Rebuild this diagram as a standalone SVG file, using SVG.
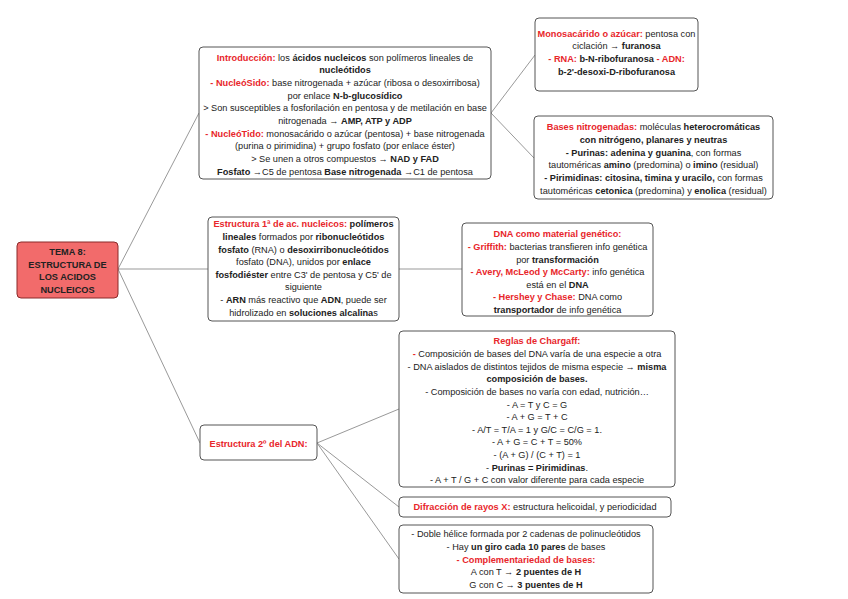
<svg xmlns="http://www.w3.org/2000/svg" width="848" height="599" viewBox="0 0 848 599">
<style>
text{font-family:"Liberation Sans",Arial,sans-serif;font-size:9.2px;fill:#222;text-anchor:middle}
.b{font-weight:bold}
.r{font-weight:bold;fill:#e8262b}
.box{fill:#fff;stroke:#555;stroke-width:1}
.root{fill:#f26b6b;stroke:#8a2a2a;stroke-width:1}
.c{stroke:#999;stroke-width:1;fill:none}
</style>
<rect width="848" height="599" fill="#fff"/>
<g id="connectors">
<line class="c" x1="118" y1="269" x2="199" y2="113"/>
<line class="c" x1="118" y1="269" x2="208" y2="269"/>
<line class="c" x1="118" y1="269" x2="200" y2="443"/>
<line class="c" x1="491" y1="113" x2="535" y2="55"/>
<line class="c" x1="491" y1="113" x2="534" y2="158"/>
<line class="c" x1="399" y1="269" x2="462" y2="269"/>
<line class="c" x1="317" y1="443" x2="399" y2="409"/>
<line class="c" x1="317" y1="443" x2="399" y2="507"/>
<line class="c" x1="317" y1="443" x2="399" y2="559"/>
</g>
<g id="root">
<rect class="root" x="17" y="242" width="101" height="56" rx="4"/>
<text class="b" x="67.5" y="255">TEMA 8:</text>
<text class="b" x="67.5" y="267.6">ESTRUCTURA DE</text>
<text class="b" x="67.5" y="280.2">LOS ACIDOS</text>
<text class="b" x="67.5" y="292.8">NUCLEICOS</text>
</g>
<g id="intro">
<rect class="box" x="199" y="47" width="292" height="132" rx="4"/>
<text x="345" y="60.5"><tspan class="r">Introducción:</tspan> los <tspan class="b">ácidos nucleicos</tspan> son polímeros lineales de</text>
<text x="345" y="73.2"><tspan class="b">nucleótidos</tspan></text>
<text x="345" y="85.9"><tspan class="r">- NucleóSido:</tspan> base nitrogenada + azúcar (ribosa o desoxirribosa)</text>
<text x="345" y="98.6">por enlace <tspan class="b">N-b-glucosídico</tspan></text>
<text x="345" y="111.3">&gt; Son susceptibles a fosforilación en pentosa y de metilación en base</text>
<text x="345" y="124">nitrogenada → <tspan class="b">AMP, ATP y ADP</tspan></text>
<text x="345" y="136.7"><tspan class="r">- NucleóTido:</tspan> monosacárido o azúcar (pentosa) + base nitrogenada</text>
<text x="345" y="149.4">(purina o pirimidina) + grupo fosfato (por enlace éster)</text>
<text x="345" y="162.1">&gt; Se unen a otros compuestos → <tspan class="b">NAD y FAD</tspan></text>
<text x="345" y="174.8"><tspan class="b">Fosfato</tspan> →C5 de pentosa <tspan class="b">Base nitrogenada</tspan> →C1 de pentosa</text>
</g>
<g id="monosacarido">
<rect class="box" x="535" y="18" width="163" height="73" rx="4"/>
<text x="616.5" y="36.6"><tspan class="r">Monosacárido o azúcar:</tspan> pentosa con</text>
<text x="616.5" y="49.3">ciclación → <tspan class="b">furanosa</tspan></text>
<text x="616.5" y="62"><tspan class="r">- RNA:</tspan><tspan class="b"> b-N-ribofuranosa</tspan><tspan class="r"> - ADN:</tspan></text>
<text x="616.5" y="74.7"><tspan class="b">b-2'-desoxi-D-ribofuranosa</tspan></text>
</g>
<g id="bases">
<rect class="box" x="534" y="116" width="239" height="83" rx="4"/>
<text x="653.5" y="130.3"><tspan class="r">Bases nitrogenadas:</tspan> moléculas <tspan class="b">heterocromáticas</tspan></text>
<text x="653.5" y="143"><tspan class="b">con nitrógeno, planares y neutras</tspan></text>
<text x="653.5" y="155.7"><tspan class="b">- Purinas: adenina y guanina</tspan>, con formas</text>
<text x="653.5" y="168.4">tautoméricas <tspan class="b">amino</tspan> (predomina) o <tspan class="b">imino</tspan> (residual)</text>
<text x="653.5" y="181.1"><tspan class="b">- Pirimidinas: citosina, timina y uracilo,</tspan> con formas</text>
<text x="653.5" y="193.8">tautoméricas <tspan class="b">cetonica</tspan> (predomina) y <tspan class="b">enolica</tspan> (residual)</text>
</g>
<g id="estructura1">
<rect class="box" x="208" y="217" width="191" height="104" rx="4"/>
<text x="303.5" y="227.3"><tspan class="r">Estructura 1ª de ac. nucleicos:</tspan><tspan class="b"> polímeros</tspan></text>
<text x="303.5" y="239.9"><tspan class="b">lineales</tspan> formados por <tspan class="b">ribonucleótidos</tspan></text>
<text x="303.5" y="252.5"><tspan class="b">fosfato</tspan> (RNA) o <tspan class="b">desoxirribonucleótidos</tspan></text>
<text x="303.5" y="265.1">fosfato (DNA), unidos por <tspan class="b">enlace</tspan></text>
<text x="303.5" y="277.7"><tspan class="b">fosfodiéster</tspan> entre C3' de pentosa y C5' de</text>
<text x="303.5" y="290.3">siguiente</text>
<text x="303.5" y="302.9">- <tspan class="b">ARN</tspan> más reactivo que <tspan class="b">ADN</tspan>, puede ser</text>
<text x="303.5" y="315.5">hidrolizado en <tspan class="b">soluciones alcalina</tspan>s</text>
</g>
<g id="dna">
<rect class="box" x="462" y="223" width="191" height="93" rx="4"/>
<text x="557.5" y="237.3"><tspan class="r">DNA como material genético:</tspan></text>
<text x="557.5" y="249.9"><tspan class="r">- Griffith:</tspan> bacterias transfieren info genética</text>
<text x="557.5" y="262.5">por <tspan class="b">transformación</tspan></text>
<text x="557.5" y="275.1"><tspan class="r">- Avery, McLeod y McCarty:</tspan> info genética</text>
<text x="557.5" y="287.7">está en el <tspan class="b">DNA</tspan></text>
<text x="557.5" y="300.3"><tspan class="r">- Hershey y Chase:</tspan> DNA como</text>
<text x="557.5" y="312.9"><tspan class="b">transportador</tspan> de info genética</text>
</g>
<g id="estructura2">
<rect class="box" x="200" y="425" width="117" height="35" rx="4"/>
<text x="258.5" y="447.3"><tspan class="r">Estructura 2º del ADN:</tspan></text>
</g>
<g id="chargaff">
<rect class="box" x="399" y="331" width="276" height="156" rx="4"/>
<text x="537" y="344.3"><tspan class="r">Reglas de Chargaff:</tspan></text>
<text x="537" y="356.9"><tspan class="r">-</tspan> Composición de bases del DNA varía de una especie a otra</text>
<text x="537" y="369.6">- DNA aislados de distintos tejidos de misma especie → <tspan class="b">misma</tspan></text>
<text x="537" y="382.2"><tspan class="b">composición de bases.</tspan></text>
<text x="537" y="394.9">- Composición de bases no varía con edad, nutrición…</text>
<text x="537" y="407.5">- A = T y C = G</text>
<text x="537" y="420.1">- A + G = T + C</text>
<text x="537" y="432.8">- A/T = T/A = 1 y G/C = C/G = 1.</text>
<text x="537" y="445.4">- A + G = C + T = 50%</text>
<text x="537" y="458.1">- (A + G) / (C + T) = 1</text>
<text x="537" y="470.7">- <tspan class="b">Purinas = Pirimidinas</tspan>.</text>
<text x="537" y="483.3">- A + T / G + C con valor diferente para cada especie</text>
</g>
<g id="difraccion">
<rect class="box" x="399" y="497" width="272" height="20" rx="4"/>
<text x="535" y="509.5"><tspan class="r">Difracción de rayos X:</tspan> estructura helicoidal, y periodicidad</text>
</g>
<g id="doblehelice">
<rect class="box" x="399" y="525" width="254" height="68" rx="4"/>
<text x="526" y="537.3">- Doble hélice formada por 2 cadenas de polinucleótidos</text>
<text x="526" y="549.9">- Hay <tspan class="b">un giro cada 10 pares</tspan> de bases</text>
<text x="526" y="562.5"><tspan class="r">- Complementariedad de bases:</tspan></text>
<text x="526" y="575.1">A con T → <tspan class="b">2 puentes de H</tspan></text>
<text x="526" y="587.7">G con C → <tspan class="b">3 puentes de H</tspan></text>
</g>
</svg>
